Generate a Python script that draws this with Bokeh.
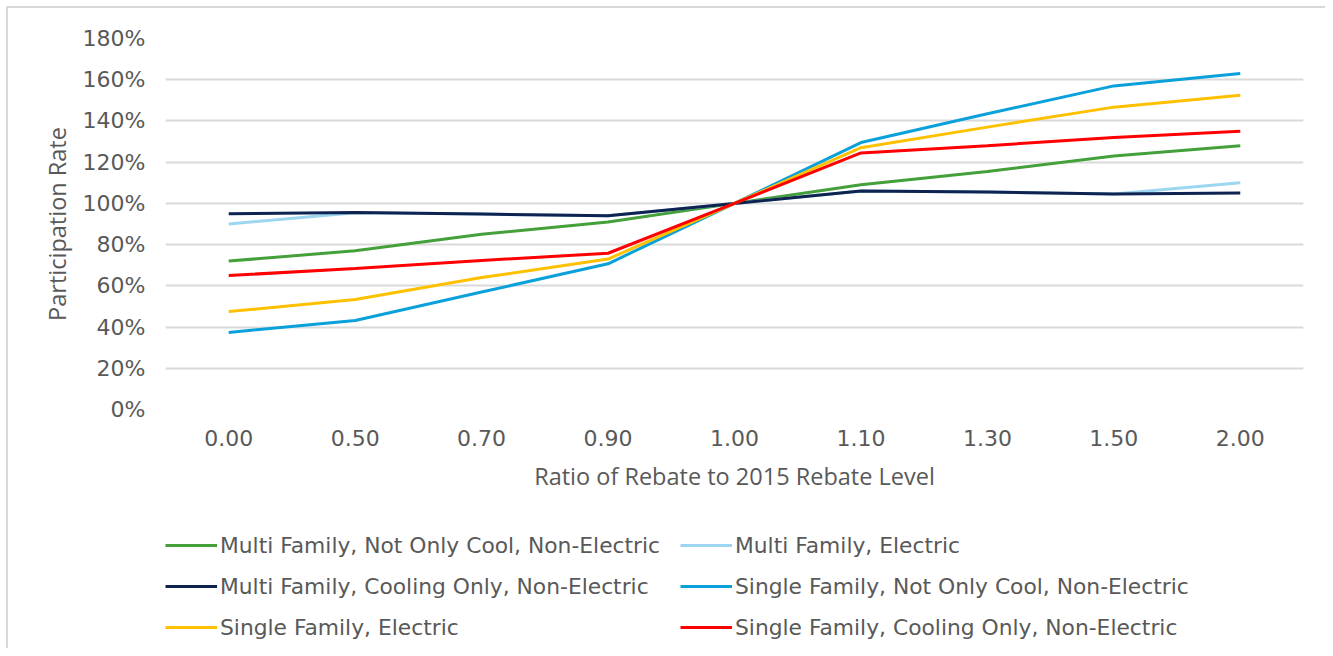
from bokeh.plotting import figure
from bokeh.layouts import column
from bokeh.models import Range1d, FactorRange, FixedTicker, PrintfTickFormatter, Legend, LegendItem
from bokeh.embed import file_html
from bokeh.resources import INLINE

categories = ["0.00", "0.50", "0.70", "0.90", "1.00", "1.10", "1.30", "1.50", "2.00"]
y_ticks = [0, 20, 40, 60, 80, 100, 120, 140, 160, 180]

series_names = [
    "Multi Family, Not Only Cool, Non-Electric",
    "Multi Family, Electric",
    "Multi Family, Cooling Only, Non-Electric",
    "Single Family, Not Only Cool, Non-Electric",
    "Single Family, Electric",
    "Single Family, Cooling Only, Non-Electric",
]
mf_not_only_cool = [72, 77, 85, 91, 100, 109, 115.5, 123, 128]
mf_electric = [90, 95.5, 94.8, 94, 100, 106, 105.5, 104.6, 110]
mf_cooling_only = [95, 95.6, 94.8, 94, 100, 106, 105.5, 104.6, 105]
sf_not_only_cool = [37.4, 43.2, 57, 70.7, 100, 129.5, 143.5, 157, 163]
sf_electric = [47.5, 53.4, 64, 73, 100, 127, 137, 146.7, 152.5]
sf_cooling_only = [65, 68.4, 72.3, 75.8, 100, 124.5, 128, 132, 135]

series_values = [mf_not_only_cool, mf_electric, mf_cooling_only,
                 sf_not_only_cool, sf_electric, sf_cooling_only]
colors = ["#43A03A", "#9DD6F0", "#0E2350", "#0AA0DA", "#FFC000", "#FF0000"]

TXT = "#595959"
GRID = "#D9D9D9"

# ---- main chart ----
p = figure(frame_width=1138, frame_height=371, output_backend="svg", toolbar_location=None,
           x_range=FactorRange(*categories, range_padding=0),
           y_range=Range1d(0, 180),
           min_border_left=165, min_border_right=22, min_border_top=38,
           min_border_bottom=101)
p.outline_line_color = None
p.border_fill_color = None
p.background_fill_color = "white"

for vals, col in zip(series_values, colors):
    p.line(categories, vals, line_color=col, line_width=3)

p.xgrid.grid_line_color = None
p.ygrid.grid_line_color = GRID
p.ygrid.grid_line_width = 2

p.yaxis.ticker = FixedTicker(ticks=y_ticks)
p.yaxis.formatter = PrintfTickFormatter(format="%d%%")
for ax in (p.xaxis, p.yaxis):
    ax.axis_line_color = None
    ax.major_tick_line_color = None
    ax.minor_tick_line_color = None
    ax.major_tick_out = 0
    ax.major_tick_in = 0
    ax.major_label_text_font = "DejaVu Sans"
    ax.major_label_text_font_size = "22px"
    ax.major_label_text_color = TXT
    ax.axis_label_text_font = "Open Sans"
    ax.axis_label_text_font_size = "23.5px"
    ax.axis_label_text_font_style = "normal"
    ax.axis_label_text_color = TXT

p.yaxis.major_label_standoff = 20
p.xaxis.major_label_standoff = 20
p.yaxis.axis_label = "Participation Rate"
p.xaxis.axis_label = "Ratio of Rebate to 2015 Rebate Level"
p.yaxis.axis_label_standoff = 7
p.xaxis.axis_label_standoff = 11

# ---- legend strip (same series, plotted outside its visible range) ----
q = figure(width=1325, height=138, output_backend="svg", toolbar_location=None,
           x_range=FactorRange(*categories, range_padding=0),
           y_range=Range1d(1000, 1001),
           x_axis_location=None, y_axis_location=None,
           min_border_left=0, min_border_right=0, min_border_top=0, min_border_bottom=0)
q.outline_line_color = None
q.border_fill_color = None
q.background_fill_color = None
q.grid.visible = False

legend_renderers = []
for vals, col in zip(series_values, colors):
    legend_renderers.append(q.line(categories, vals, line_color=col, line_width=3))


def make_legend(idx, loc):
    items = [LegendItem(label=series_names[i], renderers=[legend_renderers[i]]) for i in idx]
    return Legend(items=items, location=loc, orientation="vertical",
                  padding=0, margin=0, spacing=15,
                  glyph_width=52, glyph_height=26, label_height=26,
                  label_standoff=3,
                  label_text_font="DejaVu Sans", label_text_font_size="21.8px",
                  label_text_color=TXT,
                  border_line_color=None, background_fill_alpha=0)


q.add_layout(make_legend([0, 2, 4], (0, 8)))
q.add_layout(make_legend([1, 3, 5], (515, 8)))

layout = column(p, q, spacing=0)
layout.styles = {"box-shadow": "inset 6px 6px 0 0 #FFFFFF, inset 8px 8px 0 0 #D9D9D9",
                 "background-color": "white"}

open("out.html", "w").write(file_html(layout, INLINE))
